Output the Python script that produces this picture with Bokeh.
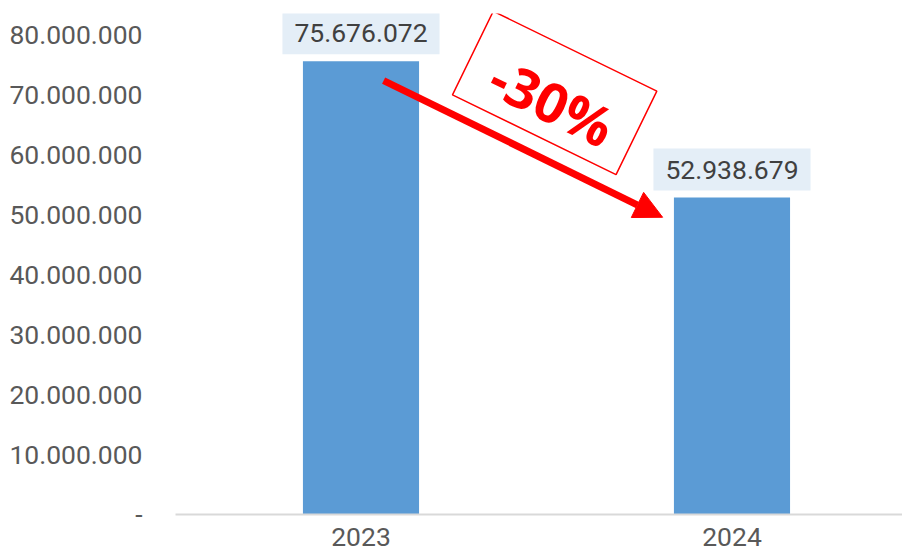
import math
from bokeh.plotting import figure
from bokeh.models import Range1d, FixedTicker, Arrow, NormalHead, ColumnDataSource
from bokeh.core.properties import value
from bokeh.embed import file_html
from bokeh.resources import INLINE

years = ["2023", "2024"]
totals = [75676072, 52938679]
change_label = "-30%"
y_ticks = [0, 10000000, 20000000, 30000000, 40000000, 50000000, 60000000, 70000000, 80000000]


def fmt(v):
    return "-" if v == 0 else f"{v:,}".replace(",", ".")


xs = [i + 0.5 for i in range(len(years))]

p = figure(frame_width=727, frame_height=501, output_backend="svg", toolbar_location=None,
           x_range=Range1d(0, 1.9596), y_range=Range1d(0, 83670000),
           min_border_left=175, min_border_right=0, min_border_top=13, min_border_bottom=45)
p.outline_line_color = None
p.xgrid.grid_line_color = None
p.ygrid.grid_line_color = None
p.background_fill_color = "white"
p.border_fill_color = "white"

src = ColumnDataSource(dict(x=xs, top=totals, label=[fmt(v) for v in totals]))
p.vbar(x="x", top="top", width=0.313, bottom=0, source=src,
       fill_color="#5B9BD5", line_color=None)

# data labels with light-blue box
p.text(x="x", y="top", text="label", source=src, y_offset=-7,
       text_align="center", text_baseline="bottom",
       text_font=value("Roboto"), text_font_size="26.5px", text_color="#404040",
       background_fill_color="#E4EEF7", padding=(12, 12))

# x axis
xa = p.xaxis[0]
xa.ticker = FixedTicker(ticks=xs)
xa.major_label_overrides = {x: y for x, y in zip(xs, years)}
xa.axis_line_color = "#d9d9d9"
xa.axis_line_width = 2
xa.major_tick_line_color = None
xa.major_tick_out = 0
xa.major_tick_in = 0
xa.minor_tick_line_color = None
xa.major_label_standoff = 13
xa.major_label_text_font = "Roboto"
xa.major_label_text_font_size = "26.5px"
xa.major_label_text_color = "#595959"

# y axis
ya = p.yaxis[0]
ya.ticker = FixedTicker(ticks=y_ticks)
ya.major_label_overrides = {t: fmt(t) for t in y_ticks}
ya.axis_line_color = None
ya.major_tick_line_color = None
ya.major_tick_out = 0
ya.major_tick_in = 0
ya.minor_tick_line_color = None
ya.major_label_standoff = 33
ya.major_label_text_font = "Roboto"
ya.major_label_text_font_size = "26.5px"
ya.major_label_text_color = "#595959"

# decline arrow
p.add_layout(Arrow(x_start=xs[0] + 0.061, y_start=totals[0] - 3200000,
                   x_end=xs[1] - 0.187, y_end=totals[1] - 3300000,
                   line_color="red", line_width=7,
                   end=NormalHead(size=28, fill_color="red", line_color="red", line_width=1)))

# -30% stamp
ang = -26 * math.pi / 180
p.rect(x=[1.022], y=[70400000], width=182, height=93, width_units="screen",
       height_units="screen", angle=ang, fill_color="white", line_color="red", line_width=1.5)
p.text(x=[1.016], y=[69000000], text=[change_label], angle=ang,
       text_align="center", text_baseline="middle",
       text_font=value("Open Sans"), text_font_style="bold",
       text_font_size="55px", text_color="red")

open("out.html", "w").write(file_html(p, INLINE))
